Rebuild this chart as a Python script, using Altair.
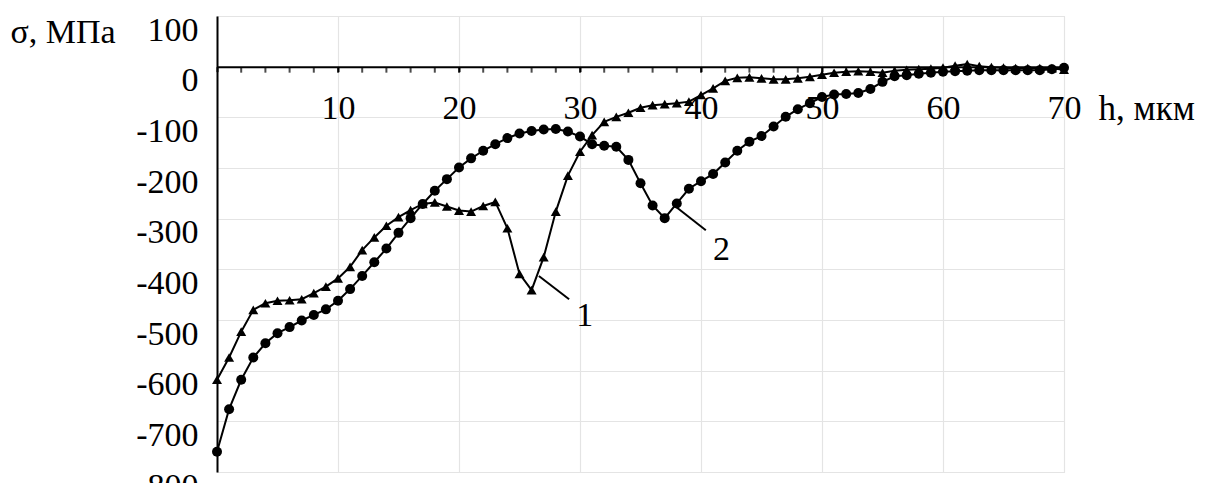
import altair as alt
import pandas as pd

# depth h, µm
h = list(range(0, 71))

# curve 1 (triangles)
s1 = [-618, -574, -523, -480, -467, -462, -461, -459, -447, -434,
      -418, -395, -362, -337, -314, -297, -283, -271, -268, -276,
      -284, -286, -275, -267, -319, -409, -441, -376, -286, -215,
      -168, -135, -109, -99, -91, -81, -76, -74, -72, -69,
      -56, -43, -28, -22, -21, -23, -25, -25, -23, -20,
      -16, -12, -10, -9, -10, -12, -8, -6, -5, -4,
      -2, 2, 5, 1, -1, -2, -3, -3, -3, -3, -6]

# curve 2 (circles)
s2 = [-760, -676, -618, -574, -546, -526, -514, -501, -490, -479,
      -462, -439, -413, -386, -359, -328, -299, -271, -245, -222,
      -199, -181, -166, -153, -141, -132, -127, -124, -123, -128,
      -138, -153, -156, -158, -184, -230, -274, -299, -270, -241,
      -226, -212, -189, -166, -148, -137, -118, -99, -84, -72,
      -60, -55, -54, -52, -44, -30, -19, -17, -14, -12,
      -10, -9, -8, -7, -7, -7, -7, -7, -7, -5, -2]

# leader lines and their labels
lead_x1 = [26.6, 38.0]
lead_y1 = [-413, -278]
lead_x2 = [29.1, 40.4]
lead_y2 = [-459, -323]
lab_x = [30.4, 41.7]
lab_y = [-493, -362]
lab_txt = ["1", "2"]

x_major = list(range(0, 71, 10))
x_minor = list(range(2, 71, 2))
y_ticks = list(range(-800, 101, 100))

FONT = "Liberation Serif"
FS = 34
W, H = 847, 456

df1 = pd.DataFrame({"h": h, "s": s1})
df2 = pd.DataFrame({"h": h, "s": s2})
lead = pd.DataFrame({"x1": lead_x1, "y1": lead_y1, "x2": lead_x2, "y2": lead_y2})
labs = pd.DataFrame({"x": lab_x, "y": lab_y, "t": lab_txt})
minor = pd.DataFrame({"h": x_minor, "s": [0] * len(x_minor)})

xscale = alt.Scale(domain=[0, 70], nice=False, zero=False)
yscale = alt.Scale(domain=[-800, 100], nice=False)

x_axis = alt.Axis(
    values=x_major,
    orient="bottom",
    offset=-(H * 800 / 900),
    title="h, мкм",
    titleFont=FONT, titleFontSize=35, titleFontWeight="normal", titleColor="black",
    titleAngle=0, titleAlign="left", titleBaseline="alphabetic",
    titleX=881, titleY=53,
    labelExpr="datum.value > 0 ? datum.value + '' : ''",
    labelFont=FONT, labelFontSize=FS, labelColor="black",
    labelBaseline="alphabetic", labelPadding=47, labelOverlap=False, labelFlush=False,
    domainColor="black", domainWidth=2,
    tickColor="black", tickSize=5, tickWidth=2,
    grid=True, gridColor="#e4e4e4", gridWidth=1.2,
)

y_axis = alt.Axis(
    values=y_ticks,
    title="σ, МПа",
    titleFont=FONT, titleFontSize=FS, titleFontWeight="normal", titleColor="black",
    titleAngle=0, titleAlign="left", titleBaseline="alphabetic",
    titleX=-207, titleY=26,
    labelExpr="datum.value + ''",
    labelFont=FONT, labelFontSize=FS, labelColor="black",
    labelBaseline="top", labelPadding=19, labelOffset=-3,
    labelOverlap=False, labelFlush=False,
    domainColor="black", domainWidth=2,
    ticks=False,
    grid=True, gridColor="#e4e4e4", gridWidth=1.2,
)

base1 = alt.Chart(df1).encode(
    x=alt.X("h:Q", scale=xscale, axis=x_axis),
    y=alt.Y("s:Q", scale=yscale, axis=y_axis),
)
base2 = alt.Chart(df2).encode(
    x=alt.X("h:Q", scale=xscale),
    y=alt.Y("s:Q", scale=yscale),
)

line1 = base1.mark_line(color="black", strokeWidth=2)
pts1 = base1.mark_point(shape="triangle-up", filled=True, color="black", size=100, opacity=1)
line2 = base2.mark_line(color="black", strokeWidth=2)
pts2 = base2.mark_point(shape="circle", filled=True, color="black", size=100, opacity=1)

minor_ticks = alt.Chart(minor).mark_tick(
    orient="vertical", color="black", size=5, thickness=2, yOffset=3.5
).encode(x=alt.X("h:Q", scale=xscale), y=alt.Y("s:Q", scale=yscale))

leaders = alt.Chart(lead).mark_rule(color="black", strokeWidth=2).encode(
    x="x1:Q", y="y1:Q", x2="x2:Q", y2="y2:Q"
)
texts = alt.Chart(labs).mark_text(font=FONT, fontSize=FS, color="black",
                                  align="center", baseline="middle").encode(
    x="x:Q", y="y:Q", text="t:N"
)

chart = alt.layer(minor_ticks, line1, line2, pts1, pts2, leaders, texts).properties(
    width=W, height=H,
    padding={"left": 209, "top": 8, "right": 140, "bottom": 11},
    autosize=alt.AutoSizeParams(type="none"),
).configure_view(stroke=None).configure(background="white")

chart.save("out.html", embed_options={"renderer": "svg", "actions": False})
